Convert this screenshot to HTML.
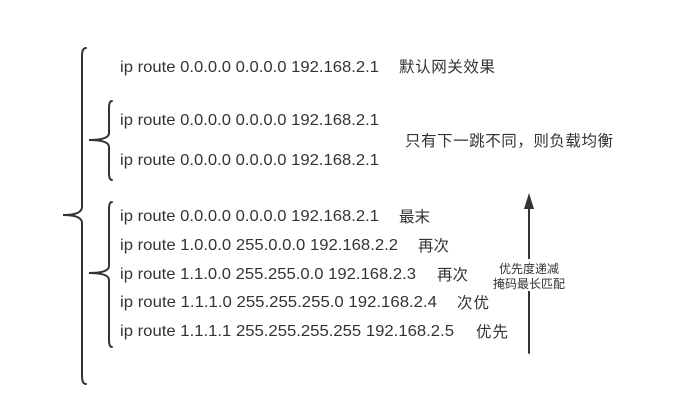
<!DOCTYPE html>
<html><head><meta charset="utf-8"><style>
html,body{margin:0;padding:0;background:#fff;}
svg{display:block;}
text{font-family:"Liberation Sans","Noto Sans CJK SC",sans-serif;fill:#333;}
.ip{font-size:16px;}
.cn{font-size:15.5px;}
.sm{font-size:12px;}
</style></head><body>
<svg width="694" height="417" viewBox="0 0 694 417" xmlns="http://www.w3.org/2000/svg">
<g fill="none" stroke="#333" stroke-width="2" stroke-linecap="round">
  <path d="M86,48 Q82,48 82,56 L82,207 Q82,215 63,215 Q82,215 82,223 L82,376 Q82,384 86,384"/>
  <path d="M112,101 Q109,101 109,108 L109,133 Q109,140 89,140 Q109,140 109,147 L109,173 Q109,180 112,180"/>
  <path d="M112,202 Q109,202 109,209 L109,266 Q109,273 89,273 Q109,273 109,280 L109,340 Q109,347 112,347"/>
  <line x1="529" y1="353" x2="529" y2="205"/>
</g>
<polygon points="529,193 524,209 534,209" fill="#333"/>
<rect x="492" y="259" width="74" height="32" fill="#fff"/>
<text class="ip" x="120" y="72" textLength="259" lengthAdjust="spacingAndGlyphs">ip route 0.0.0.0 0.0.0.0 192.168.2.1</text>
<text class="ip" x="120" y="125" textLength="259" lengthAdjust="spacingAndGlyphs">ip route 0.0.0.0 0.0.0.0 192.168.2.1</text>
<text class="ip" x="120" y="165" textLength="259" lengthAdjust="spacingAndGlyphs">ip route 0.0.0.0 0.0.0.0 192.168.2.1</text>
<text class="ip" x="120" y="221" textLength="259" lengthAdjust="spacingAndGlyphs">ip route 0.0.0.0 0.0.0.0 192.168.2.1</text>
<text class="ip" x="120" y="250" textLength="278" lengthAdjust="spacingAndGlyphs">ip route 1.0.0.0 255.0.0.0 192.168.2.2</text>
<text class="ip" x="120" y="279" textLength="296" lengthAdjust="spacingAndGlyphs">ip route 1.1.0.0 255.255.0.0 192.168.2.3</text>
<text class="ip" x="120" y="307" textLength="317" lengthAdjust="spacingAndGlyphs">ip route 1.1.1.0 255.255.255.0 192.168.2.4</text>
<text class="ip" x="120" y="336" textLength="334" lengthAdjust="spacingAndGlyphs">ip route 1.1.1.1 255.255.255.255 192.168.2.5</text>
<text class="cn" x="399" y="72" textLength="96">默认网关效果</text>
<text class="cn" x="405" y="146" textLength="208">只有下一跳不同，则负载均衡</text>
<text class="cn" x="399" y="222" textLength="31">最末</text>
<text class="cn" x="418" y="251" textLength="31">再次</text>
<text class="cn" x="437" y="280" textLength="31">再次</text>
<text class="cn" x="457" y="308" textLength="32">次优</text>
<text class="cn" x="476" y="337" textLength="32">优先</text>
<text class="sm" x="529" y="273" text-anchor="middle">优先度递减</text>
<text class="sm" x="529" y="288" text-anchor="middle">掩码最长匹配</text>
</svg>
</body></html>
